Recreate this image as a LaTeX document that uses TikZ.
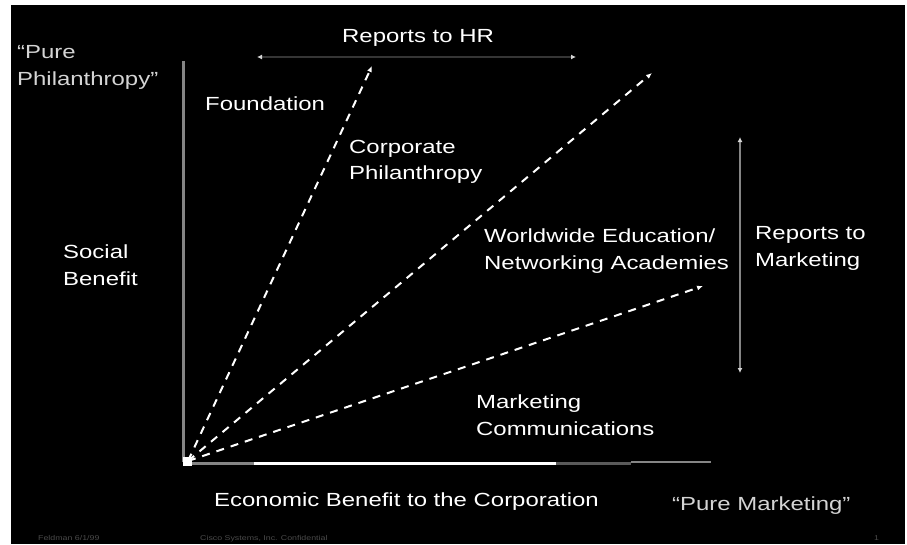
\documentclass[tikz,border=0pt]{standalone}
\usepackage{fontspec}
\setmainfont{Liberation Sans}[FakeStretch=1.26]
\usetikzlibrary{arrows.meta}
\definecolor{axisgray}{HTML}{858585}
\definecolor{dimgray}{HTML}{5A5A5A}
\definecolor{hrline}{HTML}{353535}
\definecolor{softwhite}{HTML}{D4D4D4}
\definecolor{footgray}{HTML}{4A4A4A}
\tikzset{
  lbl/.style={anchor=base west, inner sep=0pt, text=white, font=\fontsize{19}{19}\selectfont},
  quote/.style={lbl, text=softwhite},
  foot/.style={anchor=base west, inner sep=0pt, text=footgray, font=\fontsize{7}{7}\selectfont},
  boundary/.style={white, line width=2pt, dash pattern=on 8pt off 7pt, -{Latex[length=6pt,width=5pt]}},
  span/.style={line width=2pt, {Latex[length=5pt,width=5pt,color=softwhite,fill=softwhite]}-{Latex[length=5pt,width=5pt,color=softwhite,fill=softwhite]}},
}
\begin{document}
\begin{tikzpicture}[x=1pt,y=-1pt]
% page and slide area
\fill[white] (0,0) rectangle (907,544);
\fill[black] (11,5) rectangle (905,544);
\useasboundingbox (0,0) rectangle (907,544);

% axes
\coordinate (origin) at (188,461);
\coordinate (ytop) at (183,61);
\draw[axisgray, line width=3pt] (183,462) -- (ytop);
\draw[axisgray, line width=3pt] (183,463) -- (254,463);
\draw[white, line width=3pt] (254,463) -- (556,463);
\draw[dimgray, line width=3pt] (556,463) -- (631,463);
\draw[axisgray, line width=2pt] (631,462) -- (711,462);
\fill[white] (183,457) rectangle (192,466);

% boundaries between the regions
\coordinate (b1) at (372,66);
\coordinate (b2) at (652,73);
\coordinate (b3) at (703,286);
\draw[boundary] (origin) -- (b1);
\draw[boundary] (origin) -- (b2);
\draw[boundary] (origin) -- (b3);

% reporting spans
\coordinate (hrL) at (257,57);
\coordinate (hrR) at (576,57);
\draw[span, hrline] (hrL) -- (hrR);
\coordinate (mkT) at (740,137);
\coordinate (mkB) at (740,373);
\draw[span, axisgray] (mkT) -- (mkB);

% labels
\node[lbl] (hr) at (342,42) {Reports to HR};
\node[quote] (pp1) at (17,58) {“Pure};
\node[quote] (pp2) at (17,85) {Philanthropy”};
\node[lbl] (fnd) at (205,110) {Foundation};
\node[lbl] (cp1) at (349,153) {Corporate};
\node[lbl] (cp2) at (349,179) {Philanthropy};
\node[lbl] (sb1) at (63,258) {Social};
\node[lbl] (sb2) at (63,285) {Benefit};
\node[lbl] (we1) at (484,242) {Worldwide Education/};
\node[lbl] (we2) at (484,269) {Networking Academies};
\node[lbl] (rm1) at (755,239) {Reports to};
\node[lbl] (rm2) at (755,266) {Marketing};
\node[lbl] (mc1) at (476,408) {Marketing};
\node[lbl] (mc2) at (476,435) {Communications};
\node[lbl] (eb) at (214,506) {Economic Benefit to the Corporation};
\node[quote] (pm) at (672,510) {“Pure Marketing”};

% footer
\node[foot] (f1) at (38,540) {Feldman 6/1/99};
\node[foot] (f2) at (200,540) {Cisco Systems, Inc. Confidential};
\node[foot] (f3) at (874,540) {1};
\end{tikzpicture}
\end{document}
